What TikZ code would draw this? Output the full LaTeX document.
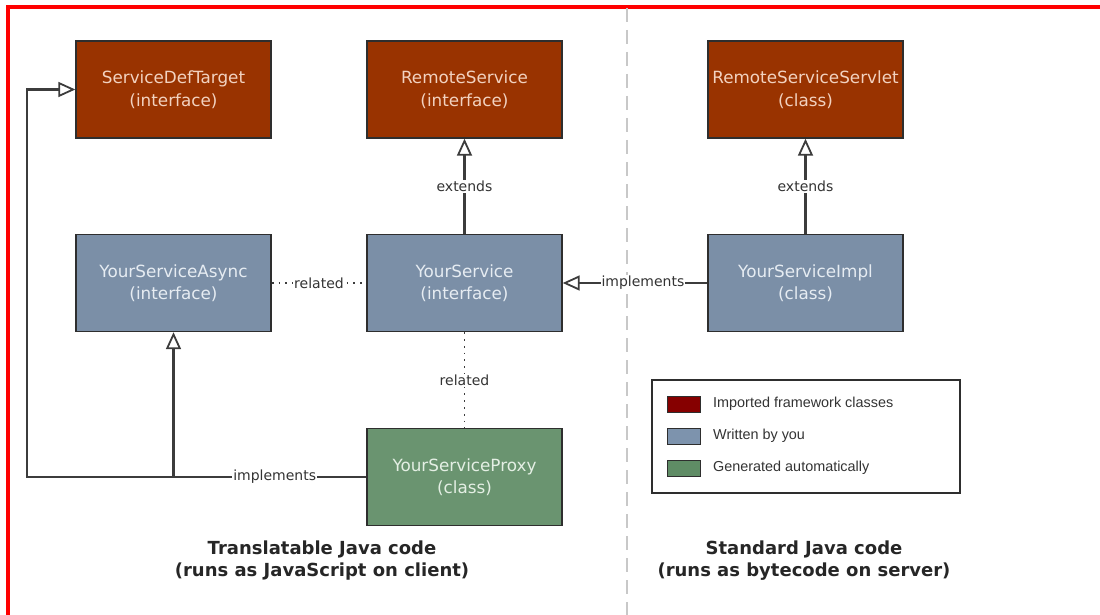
\documentclass[tikz,border=0pt]{standalone}
\usepackage{fontspec}
\setmainfont{DejaVu Sans}
\newfontfamily\legendfont{Liberation Sans}
\usetikzlibrary{arrows.meta}

\definecolor{fwfill}{HTML}{993300}
\definecolor{fwtext}{HTML}{F2D2C0}
\definecolor{userfill}{HTML}{7B8FA7}
\definecolor{usertext}{HTML}{E6ECF2}
\definecolor{genfill}{HTML}{6A9470}
\definecolor{gentext}{HTML}{E4EFE4}
\definecolor{boxline}{HTML}{2E2E2E}
\definecolor{connline}{HTML}{3C3C3C}
\definecolor{labeltext}{HTML}{333333}
\definecolor{divline}{HTML}{C8C8C8}
\definecolor{swred}{HTML}{860000}
\definecolor{swblue}{HTML}{7D93AD}
\definecolor{swgreen}{HTML}{5F8C65}

\tikzset{
  box/.style={draw=boxline, line width=1.4pt, minimum width=195pt,
    minimum height=97pt, inner sep=0pt, align=center,
    font=\fontsize{16.8}{22.5}\selectfont},
  framework/.style={box, fill=fwfill, text=fwtext},
  userbox/.style={box, fill=userfill, text=usertext},
  genbox/.style={box, fill=genfill, text=gentext},
  conn/.style={draw=connline, line width=2.2pt},
  inherit/.style={conn, -{Triangle[open, length=17pt, width=15pt, line width=1.8pt, fill=white]}},
  rel/.style={draw=connline, line width=1.8pt, dash pattern=on 1.8pt off 5pt},
  lbl/.style={fill=white, inner sep=1pt, text=labeltext,
    font=\fontsize{14}{16}\selectfont},
  swatch/.style={draw=boxline, line width=0.8pt, minimum width=33pt,
    minimum height=16pt, inner sep=0pt},
  legendtext/.style={anchor=west, inner sep=0pt, text=labeltext,
    font=\legendfont\fontsize{14.4}{16}\selectfont},
  caption/.style={align=center, text=black!85,
    font=\bfseries\fontsize{18}{22}\selectfont},
  divider/.style={draw=divline, line width=2pt, dash pattern=on 14pt off 8pt},
}

\begin{document}
\begin{tikzpicture}[x=1pt, y=-1pt]
\useasboundingbox (0,0) rectangle (1100,615);

% outer frame (runs off the right and bottom edges)
\draw[red, line width=3.5pt] (1100,7) -- (8,7) -- (8,615);

% client / server divider
\coordinate (divTop) at (627,8);
\coordinate (divBot) at (627,615);
\draw[divider] (divTop) -- (divBot);

% classes and interfaces
\node[framework] (sdt)   at (173.5,89.5) {ServiceDefTarget\\(interface)};
\node[framework] (rs)    at (464.5,89.5) {RemoteService\\(interface)};
\node[framework] (rss)   at (805.5,89.5) {RemoteServiceServlet\\(class)};
\node[userbox]   (async) at (173.5,283)  {YourServiceAsync\\(interface)};
\node[userbox]   (ys)    at (464.5,283)  {YourService\\(interface)};
\node[userbox]   (impl)  at (805.5,283)  {YourServiceImpl\\(class)};
\node[genbox]    (proxy) at (464.5,477)  {YourServiceProxy\\(class)};

% proxy implements ServiceDefTarget and YourServiceAsync
\coordinate (bend) at (27,477);
\coordinate (join) at (async.south |- proxy.west);
\draw[inherit] (proxy.west) -- node[lbl, pos=0.27] {implements} (bend) |- (sdt.west);
\draw[inherit] (join) -- (async.south);

% extends
\draw[inherit] (ys.north) -- node[lbl] {extends} (rs.south);
\draw[inherit] (impl.north) -- node[lbl] {extends} (rss.south);

% implements
\draw[inherit] (impl.west) -- node[lbl, pos=0.445] {implements} (ys.east);

% related
\draw[rel] (async.east) -- node[lbl] {related} (ys.west);
\draw[rel] (ys.south) -- node[lbl] {related} (proxy.north);

% legend
\node[draw=boxline, line width=1.2pt, minimum width=308pt, minimum height=113pt,
      inner sep=0pt] (legend) at (806,436.5) {};
\node[swatch, fill=swred]   (sw1) at (683.5,404) {};
\node[swatch, fill=swblue]  (sw2) at (683.5,436) {};
\node[swatch, fill=swgreen] (sw3) at (683.5,468) {};
\node[legendtext] (lt1) at (713,404) {Imported framework classes};
\node[legendtext] (lt2) at (713,436) {Written by you};
\node[legendtext] (lt3) at (713,468) {Generated automatically};

% captions
\node[caption] (clientcap) at (322,561) {Translatable Java code\\(runs as JavaScript on client)};
\node[caption] (servercap) at (804,561) {Standard Java code\\(runs as bytecode on server)};
\end{tikzpicture}
\end{document}
